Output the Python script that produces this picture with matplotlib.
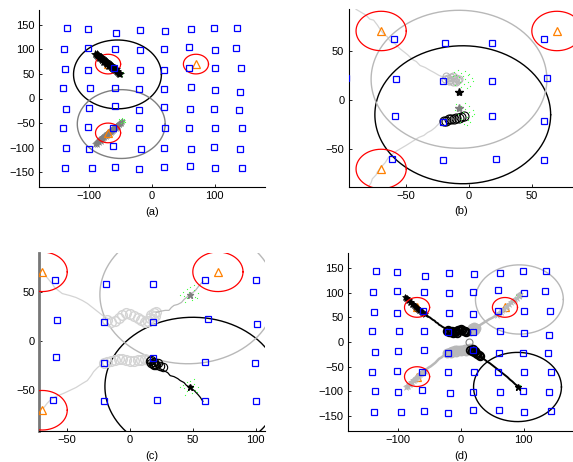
import matplotlib
matplotlib.use("Agg")
import matplotlib.pyplot as plt
import numpy as np

plt.rcParams['font.family'] = ['Liberation Sans', 'DejaVu Sans']
plt.rcParams['font.size'] = 8

# ---------------- data ----------------
anchors_x = [-135.5, -102, -57.5, -19, 20.3, 62, 99, 135.5,
             -140.5, -102.5, -59, -18.7, 19.8, 59.6, 100.3, 133.8,
             -138.5, -101.5, -60, -19.5, 18.5, 59.5, 100, 141,
             -141, -98, -58.2, -20.5, 18.4, 62, 101, 139.6,
             -137.7, -100.5, -59, -20.5, 18.4, 60, 99.5, 138.5,
             -141.5, -101.6, -61.5, -21, 21.5, 59.5, 100.3, 143.3,
             -137.7, -99.7, -61.5, -17.7, 19, 62.2, 99.2, 139.6,
             -138.2, -96.2, -59.7, -21, 19.2, 60.2, 100.5, 143.3]
anchors_y = [143, 142, 133, 140, 137, 140.5, 143.5, 143,
             101.5, 102.5, 101.5, 98.6, 101, 104.4, 98.6, 103.7,
             60, 58.5, 62, 58, 57.5, 62, 62, 62,
             21.3, 22, 21.5, 19.5, 19.6, 22.7, 17.3, 14.2,
             -20.9, -19.2, -15.8, -22.5, -16.7, -21.5, -22.2, -22.6,
             -59.8, -58.4, -59.7, -60.8, -59.7, -61, -60.5, -59.8,
             -100, -101.7, -97.6, -102.3, -100.3, -101.7, -98.6, -102,
             -141.9, -142.2, -140.2, -143.2, -138.5, -138.2, -142.2, -140.5]

targets_x = [-70, 70, -70]
targets_y = [70, 70, -70]
target_radius = 20
sense_radius = 70

# panel (a)
a_black_pts = [(-91, 90), (-89, 88), (-88, 91), (-87, 86), (-86, 89), (-85, 84), (-84, 87), (-83, 82),
               (-82, 85), (-81, 80), (-80, 83), (-79, 78), (-78, 81), (-77, 76), (-76, 79), (-75, 74),
               (-74, 77), (-73, 72), (-72, 75), (-71, 70), (-70, 73), (-69, 68), (-68, 71), (-67, 66),
               (-66, 69), (-65, 64), (-64, 67), (-63, 62), (-62, 65), (-61, 60), (-60, 63), (-59, 58),
               (-58, 60), (-57, 56), (-56, 55), (-55, 53), (-54, 52), (-53, 50), (-51, 49), (-52, 52),
               (-84, 83), (-80, 79), (-76, 75), (-72, 71), (-68, 67), (-64, 63), (-60, 59), (-78, 74),
               (-70, 66), (-74, 73), (-66, 65), (-62, 61)]
a_gray_pts = [(-91, -93), (-89, -90), (-88, -92), (-87, -88), (-86, -86), (-85, -89), (-84, -85), (-83, -82),
              (-82, -86), (-81, -80), (-80, -83), (-79, -78), (-78, -81), (-77, -76), (-76, -79), (-75, -74),
              (-74, -77), (-73, -72), (-72, -75), (-71, -70), (-70, -73), (-69, -68), (-68, -71), (-67, -66),
              (-66, -69), (-65, -64), (-64, -67), (-63, -62), (-62, -65), (-61, -60), (-60, -62), (-59, -58),
              (-58, -60), (-57, -55), (-56, -57), (-55, -53), (-54, -55), (-53, -51), (-52, -52), (-51, -49),
              (-50, -50), (-49, -47), (-48, -46)]
a_green = [(-52, 47), (-49, 52), (-47, 49), (-54, 45), (-50, 45), (-46, 53), (-48, 46), (-53, 51),
           (-50, -44), (-46, -48), (-44, -42), (-48, -40), (-43, -47), (-49, -49), (-45, -45), (-52, -42)]
a_black_center = (-55, 49)
a_gray_center = (-49, -52)

# panel (b)
b_gray_trail = [(-90, 92), (-86, 89), (-82, 86), (-79, 82), (-76, 81), (-73, 76), (-70, 70), (-68, 67),
                (-65, 64), (-63, 60), (-59, 57), (-55, 52), (-52, 49), (-49, 46), (-45, 41), (-42, 39),
                (-39, 35), (-35, 33), (-31, 30), (-28, 28), (-24, 25), (-20, 23)]
b_gray_marks = [(-19, 21), (-17, 22), (-15, 20), (-14, 23), (-12, 21), (-11, 19), (-10, 22), (-9, 20),
                (-16, 19), (-13, 18), (-8, 21), (-18, 24), (-13, 24), (-10, 18)]
b_black_trail = [(-80, -88), (-78, -84), (-77, -80), (-74, -76), (-73, -73), (-70, -68), (-67, -64),
                 (-64, -58), (-62, -56), (-58, -52), (-54, -49), (-50, -46), (-45, -42), (-40, -38),
                 (-36, -36), (-33, -33), (-30, -31), (-27, -28), (-24, -24), (-21, -22)]
b_black_marks = [(-20, -21), (-18, -21), (-16, -19), (-14, -19), (-12, -19), (-10, -18), (-8, -18),
                 (-6, -17), (-4, -16)]
b_green = [(-12, 28), (-9, 30), (-6, 27), (-3, 29), (-1, 25), (2, 22), (-5, 24), (-10, 25), (-7, 18),
           (-4, 16), (-1, 18), (1, 14), (-11, 15), (-3, 21), (0, 26), (-8, 23), (3, 19), (-6, 13),
           (-13, 24), (-2, 12), (-10, -4), (-6, -6), (-3, -9), (0, -12), (2, -16), (-1, -20), (-4, -24),
           (-7, -22), (-9, -14), (-5, -12), (-2, -17), (3, -10), (-11, -10), (1, -22), (-6, -19),
           (4, -14), (-3, -3), (-8, -9), (0, -6), (-2, -25)]
b_black_est = (-8, 8)
b_gray_est = (-8, -8)
b_black_center = (-5, -15)
b_gray_center = (-8, 21)

# panel (c)
c_gray_trail = [(-68, 68), (-66, 64), (-62, 58), (-60, 54), (-58, 52), (-54, 48), (-48, 46), (-43, 44),
                (-38, 41), (-34, 38), (-31, 35), (-28, 32), (-24, 28), (-20, 24), (-16, 22)]
c_gray_marks = [(-18, 21), (-15, 19), (-12, 20), (-9, 23), (-6, 26), (-3, 28), (0, 27), (3, 25), (6, 23),
                (9, 21), (12, 19), (14, 20), (16, 23), (17, 26), (19, 28), (20, 25), (18, 22), (21, 29)]
c_gray_recent = [(21, 29), (24, 30), (28, 31), (31, 31), (33, 34), (35, 36), (38, 37), (41, 39),
                 (43, 42), (45, 44), (48, 47), (52, 51), (55, 56), (58, 60)]
c_black_trail = [(-69, -68), (-66, -63), (-63, -59), (-59, -56), (-53, -53), (-48, -50), (-43, -47),
                 (-38, -43), (-34, -40), (-31, -35), (-29, -31), (-26, -27), (-23, -24)]
c_black_light = [(-21, -22), (-18, -21), (-15, -20), (-12, -19), (-9, -18), (-6, -18), (-3, -19),
                 (0, -20), (3, -20), (6, -19), (9, -19), (12, -18), (14, -19)]
c_black_marks = [(16, -20), (17, -22), (18, -23), (19, -21), (20, -23), (21, -24), (22, -22),
                 (24, -25), (26, -26), (19, -24), (17, -19)]
c_black_recent = [(18, -22), (21, -26), (24, -28), (27, -30), (30, -32), (32, -35), (35, -36),
                  (38, -38), (40, -40), (43, -42), (45, -45), (48, -47), (51, -50), (54, -54),
                  (56, -57), (58, -61)]
c_green = [(42, 50), (45, 53), (48, 55), (51, 52), (54, 49), (52, 45), (49, 41), (45, 43), (43, 46),
           (47, 50), (50, 48), (53, 44), (44, 39), (51, 57), (40, 47),
           (42, -44), (45, -41), (48, -40), (51, -43), (54, -46), (52, -50), (49, -53), (45, -51),
           (43, -48), (47, -44), (50, -46), (53, -52), (44, -55), (51, -38), (40, -47)]
c_black_est = (48, -47)
c_gray_est = (48, 47)
c_black_center = (50, -46)
c_gray_center = (46, 47)

# panel (d)
d_black_dense = [(-90, 92), (-88, 89), (-86, 88), (-85, 85), (-83, 84), (-82, 81), (-80, 80), (-78, 77),
                 (-77, 76), (-75, 74), (-73, 72), (-72, 70), (-70, 69), (-68, 67), (-67, 65), (-65, 64),
                 (-63, 62), (-62, 60), (-60, 59), (-58, 57)]
d_black_line = [(-58, 57), (-55, 55), (-52, 51), (-50, 50), (-47, 47), (-45, 45), (-42, 43), (-40, 40),
                (-37, 38), (-35, 35), (-32, 33), (-30, 31), (-27, 29), (-25, 26), (-22, 24)]
d_black_marks1 = [(-22, 22), (-19, 20), (-16, 21), (-13, 19), (-10, 20), (-8, 22), (-5, 24), (-3, 25),
                  (0, 26), (2, 25), (4, 23), (6, 22), (8, 20), (-20, 24), (-14, 23), (-6, 19)]
d_black_marks2 = [(14, -16), (17, -18), (20, -20), (22, -19), (24, -22), (26, -24), (28, -26),
                  (30, -28), (19, -15)]
d_black_line2 = [(30, -28), (34, -32), (38, -36), (42, -40), (46, -43), (50, -47), (54, -51), (58, -55),
                 (62, -59), (66, -63), (70, -67), (74, -71), (78, -76), (82, -80), (86, -85),
                 (90, -89), (93, -93)]
d_gray_dense = [(-88, -92), (-86, -89), (-84, -88), (-83, -85), (-81, -84), (-80, -81), (-78, -80),
                (-77, -77), (-75, -76), (-73, -74), (-72, -72), (-70, -70), (-68, -69), (-67, -67),
                (-65, -65), (-63, -63), (-62, -61), (-60, -60), (-58, -58)]
d_gray_line = [(-58, -58), (-55, -55), (-52, -52), (-48, -49), (-45, -46), (-41, -42), (-38, -38),
               (-35, -34), (-31, -31), (-28, -28), (-25, -25), (-22, -23)]
d_gray_marks1 = [(-22, -22), (-18, -20), (-14, -18), (-10, -17), (-6, -16), (-2, -16), (2, -17),
                 (6, -15), (10, -14), (14, -13), (17, -14), (-16, -22), (-8, -20), (0, -19), (8, -18)]
d_gray_ring = (12, 1)
d_gray_marks2 = [(15, 22), (18, 24), (20, 27), (22, 25), (24, 28), (17, 28), (21, 30)]
d_gray_line2 = [(25, 30), (30, 34), (35, 38), (40, 42), (45, 46), (50, 49), (55, 53), (58, 55)]
d_gray_dense2 = [(58, 55), (61, 58), (64, 61), (66, 64), (69, 67), (72, 70), (74, 73), (77, 76),
                 (80, 80), (83, 83), (86, 86), (89, 90), (92, 94), (94, 97)]
d_green = [(90, 97), (94, 99), (96, 94), (92, 92), (88, 95), (95, 101),
           (89, -88), (92, -90), (94, -87), (90, -93), (87, -91), (93, -94)]
d_black_est = (91, -91)
d_gray_est = (93, 96)
d_black_center = (90, -91)
d_gray_center = (93, 86)

# ---------------- styles ----------------
BLUE = '#0000ff'
RED = '#ff0000'
ORANGE = '#ff8000'
GREEN = '#44ff44'
LGRAY = '#d4d4d4'
MGRAY = '#b8b8b8'
DGRAY = '#7f7f7f'

fig = plt.figure(figsize=(5.73, 4.62), dpi=100)
W, H = 573.0, 462.0


def make_ax(left, top, width, height):
    return fig.add_axes([left / W, 1 - (top + height) / H, width / W, height / H])


def xy(pts):
    a = np.array(pts, dtype=float)
    return a[:, 0], a[:, 1]


def circle(ax, c, r, color, lw=1.0, z=2):
    t = np.linspace(0, 2 * np.pi, 300)
    ax.plot(c[0] + r * np.cos(t), c[1] + r * np.sin(t), color=color, lw=lw, zorder=z)


def base(ax, xlim, ylim, xticks, yticks, label, tri_z=3):
    ax.plot(anchors_x, anchors_y, 's', mfc='none', mec=BLUE, ms=4.8, mew=0.9, zorder=6)
    for tx, ty in zip(targets_x, targets_y):
        circle(ax, (tx, ty), target_radius, RED, lw=0.9, z=5)
    ax.plot(targets_x, targets_y, '^', mfc='none', mec=ORANGE, ms=6, mew=0.9, zorder=tri_z)
    ax.set_xlim(*xlim)
    ax.set_ylim(*ylim)
    ax.set_xticks(xticks)
    ax.set_yticks(yticks)
    ax.spines['top'].set_visible(False)
    ax.spines['right'].set_visible(False)
    ax.tick_params(direction='in', length=2.5, width=0.6, labelsize=8, pad=3)
    ax.set_xlabel(label, fontsize=8, labelpad=4)


def green(ax, pts):
    x, y = xy(pts)
    ax.plot(x, y, 's', color=GREEN, ms=0.8, mew=0, zorder=4)


# ---------------- (a) ----------------
ax = make_ax(39, 10, 226, 177)
base(ax, (-180, 180), (-180, 180), [-100, 0, 100], [-150, -100, -50, 0, 50, 100, 150], '(a)', tri_z=4)
x, y = xy(a_gray_pts)
ax.plot(x, y, '*', color=DGRAY, ms=5, mew=0.4, zorder=3)
x, y = xy(a_black_pts)
ax.plot(x, y, '*', color='black', ms=5.5, mew=0.5, zorder=5)
green(ax, a_green)
circle(ax, a_black_center, sense_radius, 'black', lw=1.0)
circle(ax, a_gray_center, sense_radius, DGRAY, lw=1.0)

# ---------------- (b) ----------------
ax = make_ax(348.5, 9.3, 226, 177.4)
base(ax, (-96, 84), (-88, 92), [-50, 0, 50], [-50, 0, 50], '(b)')
x, y = xy(b_gray_trail)
ax.plot(x, y, '-', color=LGRAY, lw=0.9, zorder=2)
x, y = xy(b_black_trail)
ax.plot(x, y, '-', color=LGRAY, lw=0.9, zorder=2)
x, y = xy(b_gray_marks)
ax.plot(x, y, 'o', mfc='none', mec=MGRAY, ms=5, mew=0.8, zorder=3)
x, y = xy(b_black_marks)
ax.plot(x, y, 'o', mfc='none', mec='black', ms=6.5, mew=0.8, zorder=4)
green(ax, b_green)
ax.plot(*b_black_est, '*', color='black', ms=6, zorder=6)
ax.plot(*b_gray_est, '*', color=DGRAY, ms=6, zorder=6)
circle(ax, b_black_center, sense_radius, 'black', lw=1.0)
circle(ax, b_gray_center, sense_radius, MGRAY, lw=1.0)

# ---------------- (c) ----------------
ax = make_ax(39, 253, 226, 178)
base(ax, (-72.5, 107.5), (-91, 89), [-50, 0, 50, 100], [-50, 0, 50], '(c)')
ax.spines['left'].set_color('#777777')
ax.spines['left'].set_linewidth(2)
x, y = xy(c_gray_trail)
ax.plot(x, y, '-', color=LGRAY, lw=0.9, zorder=2)
x, y = xy(c_black_trail)
ax.plot(x, y, '-', color=LGRAY, lw=0.9, zorder=2)
x, y = xy(c_gray_marks)
ax.plot(x, y, 'o', mfc='none', mec=LGRAY, ms=7, mew=1.0, zorder=3)
x, y = xy(c_black_light)
ax.plot(x, y, 'o', mfc='none', mec=LGRAY, ms=7, mew=1.0, zorder=3)
x, y = xy(c_gray_recent)
ax.plot(x, y, '-', color=MGRAY, lw=0.9, zorder=3)
x, y = xy(c_black_recent)
ax.plot(x, y, '-', color='black', lw=0.9, zorder=4)
x, y = xy(c_black_marks)
ax.plot(x, y, 'o', mfc='none', mec='black', ms=6, mew=0.8, zorder=4)
green(ax, c_green)
ax.plot(*c_black_est, '*', color='black', ms=5, zorder=6)
ax.plot(*c_gray_est, '*', color=DGRAY, ms=5, zorder=6)
circle(ax, c_black_center, sense_radius, 'black', lw=1.0)
circle(ax, c_gray_center, sense_radius, MGRAY, lw=1.0)

# ---------------- (d) ----------------
ax = make_ax(348, 253, 226, 178)
base(ax, (-180, 180), (-180, 180), [-100, 0, 100], [-150, -100, -50, 0, 50, 100, 150], '(d)')
x, y = xy(d_gray_dense)
ax.plot(x, y, '*', color=MGRAY, ms=5, mew=0.4, zorder=4)
x, y = xy(d_gray_line)
ax.plot(x, y, '-', color=MGRAY, lw=1.8, zorder=3)
x, y = xy(d_gray_marks1)
ax.plot(x, y, 'o', mfc='none', mec=MGRAY, ms=5.5, mew=1.6, zorder=3)
ax.plot(*d_gray_ring, 'o', mfc='none', mec=DGRAY, ms=5, mew=0.8, zorder=3)
x, y = xy(d_gray_marks2)
ax.plot(x, y, 'o', mfc='none', mec=MGRAY, ms=5.5, mew=1.6, zorder=3)
x, y = xy(d_gray_line2)
ax.plot(x, y, '-', color=MGRAY, lw=1.8, zorder=3)
x, y = xy(d_gray_dense2)
ax.plot(x, y, '*', color=MGRAY, ms=5, mew=0.4, zorder=4)
x, y = xy(d_black_dense)
ax.plot(x, y, '*', color='black', ms=5, mew=0.5, zorder=4)
x, y = xy(d_black_line)
ax.plot(x, y, '-', color='black', lw=1.4, zorder=4)
x, y = xy(d_black_marks1)
ax.plot(x, y, 'o', mfc='none', mec='black', ms=5.5, mew=1.3, zorder=4)
x, y = xy(d_black_marks2)
ax.plot(x, y, 'o', mfc='none', mec='black', ms=5.5, mew=1.3, zorder=4)
x, y = xy(d_black_line2)
ax.plot(x, y, '-', color='black', lw=1.4, zorder=4)
green(ax, d_green)
ax.plot(*d_black_est, '*', color='black', ms=5, zorder=6)
ax.plot(*d_gray_est, '*', color=MGRAY, ms=5, zorder=6)
circle(ax, d_black_center, sense_radius, 'black', lw=1.0)
circle(ax, d_gray_center, sense_radius, MGRAY, lw=1.0)

fig.savefig('out.png', dpi=100)
